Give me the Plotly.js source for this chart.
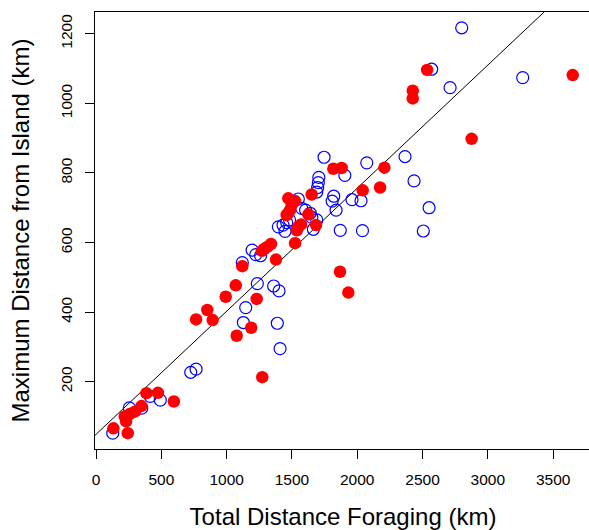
<!DOCTYPE html>
<html>
<head>
<meta charset="utf-8">
<script src="https://cdn.plot.ly/plotly-3.0.1.min.js"></script>
<style>
html,body{margin:0;padding:0;overflow:hidden;background:#fff;}
#chart{width:600px;height:530px;}
</style>
</head>
<body>
<div id="chart"></div>
<script>
// Open (blue) points: total distance foraging (km) vs max distance from island (km)
const blueX = [128,255,350,415,492,725,766,1409,1388,1128,1146,1235,1360,1401,1120,1195,1223,1260,
  1396,1432,1460,1482,1447,1549,1575,1605,1640,1652,1664,1690,1690,1697,1702,1706,1746,1820,1808,1838,
  1870,1905,1960,2029,2040,2073,2366,2435,2550,2506,2570,2711,2800,3267];
const blueY = [52,125,124,158,147,227,236,295,368,370,413,482,475,461,542,578,565,562,
  645,650,657,665,632,725,698,693,684,672,638,665,745,758,772,787,845,733,719,693,
  635,793,723,720,634,829,847,777,700,633,1098,1045,1217,1074];

// Filled (red) points
const redX = [133,243,230,220,258,298,348,386,474,596,1273,1077,1188,766,893,852,993,1230,1070,1120,
  1378,1270,1290,1315,1340,1524,1537,1550,1570,1626,1685,1651,1472,1524,1498,1485,1472,1460,
  1817,1881,2208,2042,2175,1868,1932,2535,2425,2425,2876,3650];
const redY = [66,52,86,100,107,114,130,167,168,143,213,332,355,379,377,406,444,438,477,532,
  551,576,582,588,596,598,635,645,652,681,650,738,727,719,708,693,684,679,
  812,814,815,750,758,516,456,1096,1036,1014,898,1081];

// Fitted line: y = intercept + slope * x
const fitIntercept = 48.8;
const fitSlope = 0.3537;

const xRange = [-8, 3790];
const yRange = [6.6, 1262.4];
const xTicks = [0,500,1000,1500,2000,2500,3000,3500];
const yTicks = [200,400,600,800,1000,1200];

const FONT = '"Liberation Sans", Arial, Helvetica, sans-serif';

const lineX = [xRange[0], xRange[1]];
const lineY = lineX.map(v => fitIntercept + fitSlope * v);

const traces = [
  {x: lineX, y: lineY, mode: 'lines', type: 'scatter',
   line: {color: '#000', width: 1}, hoverinfo: 'skip', showlegend: false},
  {x: blueX, y: blueY, mode: 'markers', type: 'scatter', showlegend: false,
   marker: {symbol: 'circle-open', size: 12, color: '#0000FF', line: {width: 1.2, color: '#0000FF'}}},
  {x: redX, y: redY, mode: 'markers', type: 'scatter', showlegend: false,
   marker: {symbol: 'circle', size: 12.5, color: '#FF0000', line: {width: 0}}}
];

const layout = {
  width: 600, height: 530,
  margin: {l: 95, r: 9, t: 12, b: 81, pad: 0},
  paper_bgcolor: '#fff', plot_bgcolor: '#fff',
  font: {family: FONT, color: '#000', size: 15.5},
  showlegend: false,
  xaxis: {
    range: xRange, tickvals: xTicks, ticktext: xTicks.map(String),
    showgrid: false, zeroline: false, showline: true, mirror: true,
    linecolor: '#000', linewidth: 1, ticks: 'outside', ticklen: 9, tickcolor: '#000', tickwidth: 1,
    ticklabelstandoff: 7, tickfont: {size: 15.5, family: FONT},
    title: {text: 'Total Distance Foraging (km)', font: {size: 24, family: FONT}, standoff: 23},
    automargin: false
  },
  yaxis: {
    range: yRange, tickvals: yTicks, ticktext: yTicks.map(String),
    showgrid: false, zeroline: false, showline: true, mirror: true,
    linecolor: '#000', linewidth: 1, ticks: 'outside', ticklen: 9, tickcolor: '#000', tickwidth: 1,
    tickangle: -90, ticklabelstandoff: 7, tickfont: {size: 15.5, family: FONT},
    title: {text: 'Maximum Distance from Island (km)', font: {size: 24, family: FONT}, standoff: 21},
    automargin: false
  }
};

Plotly.newPlot('chart', traces, layout, {staticPlot: true, displayModeBar: false});
</script>
</body>
</html>
